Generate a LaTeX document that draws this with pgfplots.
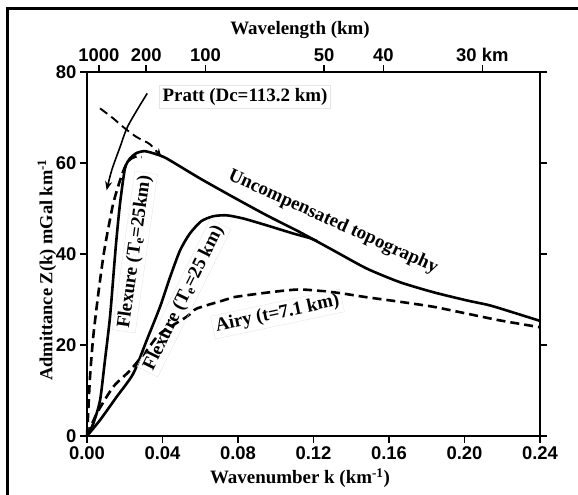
\documentclass[border=0pt]{standalone}
\usepackage{fontspec}
\setmainfont{Liberation Serif}
\setsansfont{Liberation Sans}
\usepackage{pgfplots}
\pgfplotsset{compat=1.18}
\usetikzlibrary{arrows.meta}
\begin{document}
\begin{tikzpicture}[x=1bp,y=1bp]
\useasboundingbox (-87,-59) rectangle (491,436);
\draw[line width=3bp,line join=miter] (-79.5,-70) -- (-79.5,427.5) -- (500,427.5);
\begin{axis}[at={(0,0)},anchor=south west,scale only axis,width=453bp,height=364bp,
  xmin=0,xmax=0.24,ymin=0,ymax=80,clip=false,
  xtick={0,0.04,0.08,0.12,0.16,0.2,0.24},
  xticklabels={0.00,0.04,0.08,0.12,0.16,0.20,0.24},
  ytick={0,20,40,60,80},
  tick align=outside,xtick pos=left,ytick pos=both,yticklabel pos=left,
  major tick length=7bp,
  axis line style={line width=2bp},
  tick style={line width=1.6bp,black},
  /pgf/number format/assume math mode=true,
  tick label style={font=\sffamily\bfseries\fontsize{18.5}{18.5}\selectfont},
]
% Uncompensated topography
\addplot[black,line width=2.6bp,smooth,tension=0.4] coordinates {
(0,0) (0.0033,2.7) (0.0069,7.8) (0.0095,16.6) (0.0122,26.2) (0.0145,37.9) (0.0157,43.7)
(0.0175,51.1) (0.0201,58.8) (0.0228,61.0) (0.0263,62.2) (0.0307,62.6) (0.0369,61.9)
(0.0422,61.0) (0.0599,56.6) (0.0775,52.5) (0.0952,48.5) (0.1128,44.8) (0.1305,40.8)
(0.1482,36.8) (0.1658,33.8) (0.1835,31.6) (0.2012,29.8) (0.2135,28.7) (0.2277,26.9) (0.24,25.3)};
% Flexure (lower)
\addplot[black,line width=2.6bp,smooth,tension=0.4] coordinates {
(0,0) (0.0069,3.5) (0.0157,8.6) (0.0245,13.7) (0.0316,21.0) (0.0387,28.4) (0.044,34.9)
(0.0493,40.8) (0.0545,44.5) (0.0605,47.2) (0.0669,48.3) (0.074,48.5) (0.0828,47.8)
(0.0952,46.3) (0.1093,44.5) (0.118,43.5) (0.122,42.8)};
% Airy
\addplot[black,line width=2.6bp,dash pattern=on 9bp off 5bp,smooth,tension=0.4] coordinates {
(0,0) (0.0051,4.9) (0.0139,10.8) (0.0228,14.4) (0.0316,18.8) (0.0387,22.5) (0.0528,26.2)
(0.0581,28) (0.0722,29.8) (0.0775,30.5) (0.097,31.6) (0.1128,32.2) (0.1305,31.6)
(0.1482,30.5) (0.1658,29.5) (0.1835,28.4) (0.2012,26.9) (0.2188,25.4) (0.24,23.9)};
% Pratt
\addplot[black,line width=2.6bp,dash pattern=on 9bp off 5bp,smooth,tension=0.4] coordinates {
(0,0) (0.0005,4) (0.0016,13) (0.0033,21.8) (0.006,31.3) (0.0086,39.3) (0.0104,43.7)
(0.0139,51.1) (0.0175,56.2) (0.0201,59.1) (0.0228,60.8) (0.0265,61.5) (0.029,61.3)};
% dashed pointer
\addplot[black,line width=1.9bp,dash pattern=on 9bp off 5bp,smooth,-{Stealth[length=9bp,width=7bp]}] coordinates {
(0.0069,72.0) (0.0139,69.8) (0.0201,67.6) (0.0263,65.7) (0.0334,64.1) (0.0395,61.2)};
% solid arrow
\addplot[black,line width=1.6bp,smooth,-{Stealth[length=9bp,width=7bp]}] coordinates {
(0.0319,75.3) (0.0219,68.3) (0.0175,63.5) (0.0131,58.4) (0.0104,54.0)};
\end{axis}
\begin{axis}[at={(0,0)},anchor=south west,scale only axis,width=453bp,height=364bp,
  xmin=0,xmax=0.24,ymin=0,ymax=80,
  axis x line*=top,axis y line=none,
  xtick={0.006283,0.031416,0.062832,0.125664,0.15708,0.20944},
  xticklabels={1000,200,100,50,40,30 km},
  tick align=outside,major tick length=7bp,
  axis line style={line width=2bp},
  tick style={line width=1.6bp,black},
  tick label style={font=\sffamily\bfseries\fontsize{18.5}{18.5}\selectfont},
]
\addplot[draw=none] coordinates {(0,0)};
\end{axis}
\tikzset{txt/.style={font=\bfseries\fontsize{19}{19}\selectfont}}
\node[txt] at (213,406) {Wavelength (km)};
\node[txt] at (213,-42) {Wavenumber k (km\textsuperscript{-1})};
\node[txt,font=\bfseries\fontsize{18.5}{18.5}\selectfont,rotate=90] at (-40,166) {Admittance Z(k) mGal km\textsuperscript{-1}};
\tikzset{lab/.style={txt,draw=black!10,line width=0.4bp,inner sep=3bp}}
\node[lab] at (158,339) {Pratt (Dc=113.2 km)};
\node[lab,draw=none,rotate=-24.3] at (246,214) {Uncompensated topography};
\node[lab,rotate=82] at (48,184) {Flexure (T\textsubscript{e}=25km)};
\node[lab,rotate=63.6] at (97,138) {Flexure (T\textsubscript{e}=25 km)};
\node[lab,rotate=11.9] at (190.5,122) {Airy (t=7.1 km)};
\end{tikzpicture}
\end{document}
